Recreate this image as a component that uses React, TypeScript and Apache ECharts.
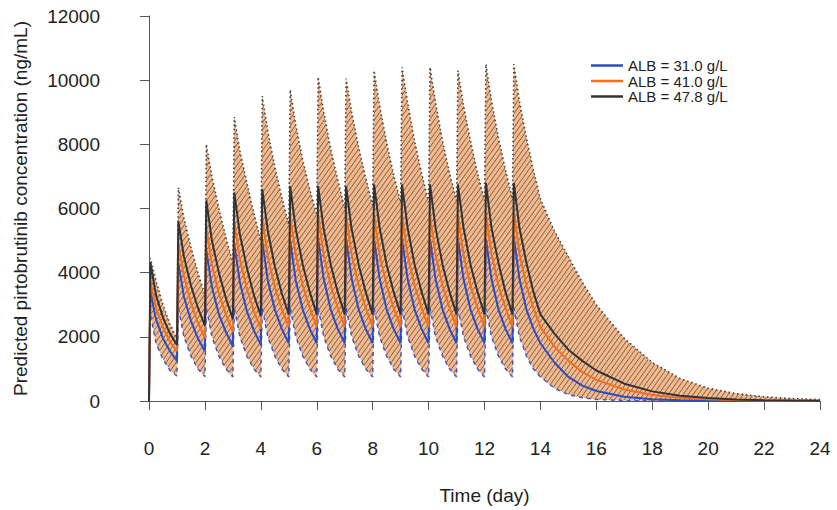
import React, { useEffect, useRef } from 'react';
import * as echarts from 'echarts';

// Time (day): dose at each day 0..13, then washout to day 24
const times = [
  0, 0.05, 0.25, 0.5, 0.75,
  1, 1.05, 1.25, 1.5, 1.75,
  2, 2.05, 2.25, 2.5, 2.75,
  3, 3.05, 3.25, 3.5, 3.75,
  4, 4.05, 4.25, 4.5, 4.75,
  5, 5.05, 5.25, 5.5, 5.75,
  6, 6.05, 6.25, 6.5, 6.75,
  7, 7.05, 7.25, 7.5, 7.75,
  8, 8.05, 8.25, 8.5, 8.75,
  9, 9.05, 9.25, 9.5, 9.75,
  10, 10.05, 10.25, 10.5, 10.75,
  11, 11.05, 11.25, 11.5, 11.75,
  12, 12.05, 12.25, 12.5, 12.75,
  13, 13.05, 13.25, 13.5, 13.75,
  14, 14.5, 15, 15.5, 16, 17, 18, 19, 20, 21, 22, 23, 24,
];

const alb31 = [
  0, 3400, 2550, 1950, 1550,
  1250, 4300, 3250, 2500, 1950,
  1550, 4700, 3550, 2700, 2150,
  1700, 4900, 3700, 2800, 2200,
  1750, 5000, 3750, 2850, 2250,
  1800, 5000, 3750, 2850, 2250,
  1800, 5050, 3800, 2850, 2250,
  1800, 5050, 3800, 2850, 2250,
  1800, 5050, 3800, 2850, 2250,
  1800, 5050, 3800, 2850, 2250,
  1800, 5050, 3800, 2850, 2250,
  1800, 5050, 3800, 2850, 2250,
  1800, 5050, 3800, 2850, 2250,
  1800, 5100, 3800, 2850, 2250,
  1800, 1200, 750, 480, 310, 130, 55, 22, 9, 4, 2, 1, 0,
];

const alb41 = [
  0, 3750, 2900, 2300, 1850,
  1550, 4900, 3900, 3050, 2450,
  1950, 5400, 4250, 3350, 2700,
  2150, 5600, 4400, 3500, 2800,
  2250, 5700, 4500, 3550, 2850,
  2300, 5750, 4550, 3600, 2900,
  2300, 5800, 4550, 3600, 2900,
  2300, 5800, 4550, 3600, 2900,
  2300, 5800, 4550, 3600, 2900,
  2300, 5800, 4550, 3600, 2900,
  2300, 5800, 4550, 3600, 2900,
  2300, 5800, 4550, 3600, 2900,
  2300, 5850, 4600, 3600, 2900,
  2300, 5900, 4600, 3600, 2900,
  2300, 1700, 1250, 900, 660, 360, 190, 100, 52, 28, 15, 8, 4,
];

const alb478 = [
  0, 4300, 3300, 2600, 2100,
  1750, 5600, 4500, 3600, 2900,
  2350, 6250, 5000, 4000, 3200,
  2550, 6500, 5200, 4150, 3300,
  2650, 6600, 5300, 4200, 3350,
  2700, 6700, 5350, 4250, 3400,
  2700, 6700, 5350, 4250, 3400,
  2700, 6700, 5350, 4250, 3400,
  2700, 6750, 5400, 4250, 3400,
  2700, 6750, 5400, 4250, 3400,
  2700, 6750, 5400, 4250, 3400,
  2700, 6750, 5400, 4250, 3400,
  2700, 6800, 5400, 4300, 3400,
  2700, 6800, 5400, 4300, 3400,
  2700, 2100, 1600, 1250, 950, 540, 300, 165, 90, 50, 27, 15, 8,
];

// Prediction interval bounds
const upperBound = [
  0, 4450, 3750, 3000, 2400,
  1950, 6650, 5700, 4800, 4000,
  3300, 8000, 7000, 6000, 5100,
  4300, 8850, 7800, 6800, 5850,
  5000, 9500, 8400, 7300, 6350,
  5500, 9700, 8600, 7500, 6600,
  5800, 10100, 9000, 7850, 6900,
  6000, 10050, 9000, 7900, 6950,
  6100, 10300, 9200, 8050, 7050,
  6200, 10400, 9300, 8100, 7100,
  6200, 10400, 9300, 8100, 7100,
  6250, 10300, 9200, 8100, 7100,
  6250, 10500, 9350, 8200, 7200,
  6300, 10500, 9350, 8200, 7200,
  6300, 5300, 4500, 3700, 3000, 1950, 1200, 700, 400, 230, 130, 75, 45,
];

const lowerBound = [
  0, 2700, 1800, 1300, 950,
  780, 2900, 2000, 1400, 1000,
  760, 2900, 2000, 1400, 1000,
  750, 2900, 2000, 1400, 1000,
  750, 2900, 2000, 1400, 1000,
  750, 2900, 2000, 1400, 1000,
  750, 2900, 2000, 1400, 1000,
  750, 2900, 2000, 1400, 1000,
  750, 2900, 2000, 1400, 1000,
  750, 2900, 2000, 1400, 1000,
  750, 2900, 2000, 1400, 1000,
  750, 2900, 2000, 1400, 1000,
  750, 2900, 2000, 1400, 1000,
  750, 2900, 2000, 1400, 1000,
  750, 400, 200, 100, 50, 12, 3, 1, 0, 0, 0, 0, 0,
];

const seriesNames = ['ALB = 31.0 g/L', 'ALB = 41.0 g/L', 'ALB = 47.8 g/L'];
const xTicks = { min: 0, max: 24, interval: 2 };
const yTicks = { min: 0, max: 12000, interval: 2000 };

const pairs = (arr: number[]) => times.map((t, i) => [t, arr[i]]);

function makeHatch(): HTMLCanvasElement {
  const w = 5;
  const h = 7;
  const c = document.createElement('canvas');
  c.width = w;
  c.height = h;
  const ctx = c.getContext('2d')!;
  ctx.fillStyle = '#F3B98C';
  ctx.fillRect(0, 0, w, h);
  ctx.strokeStyle = 'rgba(50,45,40,0.7)';
  ctx.lineWidth = 0.9;
  for (const dx of [-w, 0, w]) {
    ctx.beginPath();
    ctx.moveTo(dx, h);
    ctx.lineTo(dx + w, 0);
    ctx.stroke();
  }
  return c;
}

export default function App() {
  const ref = useRef<HTMLDivElement>(null);

  useEffect(() => {
    if (!ref.current) return;
    const chart = echarts.init(ref.current, undefined, { renderer: 'svg' });
    const font = 'Liberation Sans, Arial, sans-serif';
    const hatch = makeHatch();

    chart.setOption({
      animation: false,
      backgroundColor: '#ffffff',
      grid: { left: 149, right: 17, top: 16, bottom: 107, containLabel: false },
      legend: {
        data: seriesNames,
        orient: 'vertical',
        left: 586,
        top: 53,
        icon: 'rect',
        itemWidth: 32,
        itemHeight: 2.5,
        itemGap: 0.5,
        textStyle: { fontFamily: font, fontSize: 15, color: '#222', lineHeight: 15 },
      },
      xAxis: {
        type: 'value',
        min: xTicks.min,
        max: xTicks.max,
        interval: xTicks.interval,
        offset: 15,
        name: 'Time (day)',
        nameLocation: 'middle',
        nameGap: 70,
        nameTextStyle: { fontFamily: font, fontSize: 19, color: '#222' },
        axisLine: { show: true, lineStyle: { color: '#555', width: 1 } },
        axisTick: { show: true, length: 9, lineStyle: { color: '#555' } },
        axisLabel: { margin: 23, fontFamily: font, fontSize: 19, color: '#222' },
        splitLine: { show: false },
      },
      yAxis: {
        type: 'value',
        min: yTicks.min,
        max: yTicks.max,
        interval: yTicks.interval,
        offset: 25,
        name: 'Predicted pirtobrutinib concentration (ng/mL)',
        nameLocation: 'middle',
        nameGap: 94,
        nameTextStyle: { fontFamily: font, fontSize: 19, color: '#222' },
        axisLine: { show: true, lineStyle: { color: '#555', width: 1 } },
        axisTick: { show: true, length: 9, lineStyle: { color: '#555' } },
        axisLabel: {
          margin: 24,
          fontFamily: font,
          fontSize: 19,
          color: '#222',
          formatter: (v: number) => String(v),
        },
        splitLine: { show: false },
      },
      series: [
        {
          name: 'upper',
          type: 'line',
          data: pairs(upperBound),
          symbol: 'none',
          silent: true,
          z: 1,
          lineStyle: { color: '#444', width: 1.6, type: [1.5, 2.8] },
          areaStyle: { color: { image: hatch, repeat: 'repeat' }, opacity: 1 },
        },
        {
          name: 'lower',
          type: 'line',
          data: pairs(lowerBound),
          symbol: 'none',
          silent: true,
          z: 2,
          lineStyle: { color: '#3b5bc9', width: 1.5, type: [4, 4] },
          areaStyle: { color: '#ffffff', opacity: 1 },
        },
        {
          name: seriesNames[0],
          type: 'line',
          data: pairs(alb31),
          symbol: 'none',
          z: 3,
          color: '#2b4cc4',
          lineStyle: { color: '#2b4cc4', width: 2 },
        },
        {
          name: seriesNames[1],
          type: 'line',
          data: pairs(alb41),
          symbol: 'none',
          z: 4,
          color: '#f0701e',
          lineStyle: { color: '#f0701e', width: 2 },
        },
        {
          name: seriesNames[2],
          type: 'line',
          data: pairs(alb478),
          symbol: 'none',
          z: 5,
          color: '#333333',
          lineStyle: { color: '#333333', width: 2 },
        },
      ],
    });

    return () => chart.dispose();
  }, []);

  return (
    <div
      ref={ref}
      style={{ position: 'fixed', left: 0, top: 0, width: 837, height: 510, background: '#fff' }}
    />
  );
}
